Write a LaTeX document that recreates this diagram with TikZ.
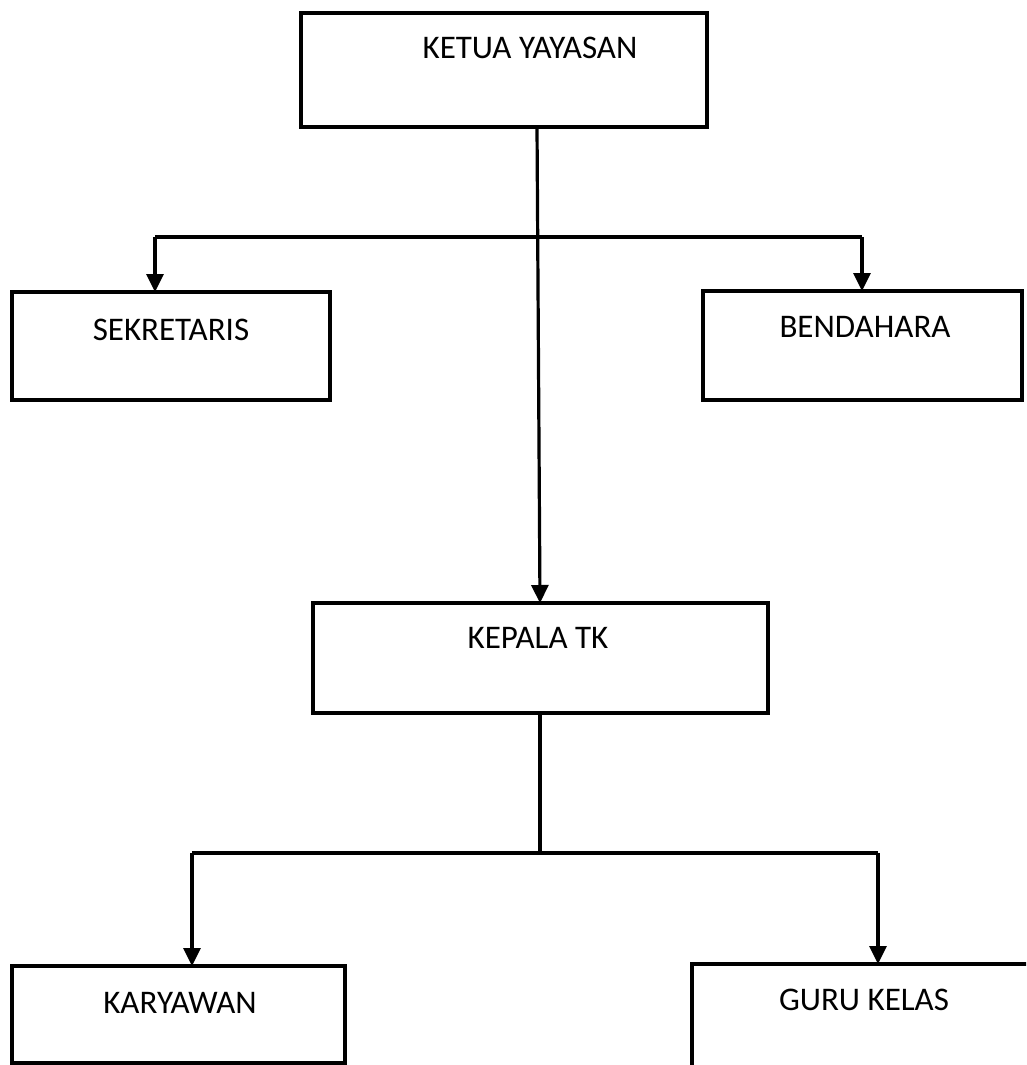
\documentclass[tikz,border=0pt]{standalone}
\usepackage{fontspec}
\setmainfont{Carlito}
\usetikzlibrary{arrows.meta}
\begin{document}
\begin{tikzpicture}[x=1pt,y=-1pt,
  box/.style={draw,line width=3.2pt,rectangle,inner sep=0pt},
  lbl/.style={font=\fontsize{33}{36}\selectfont,inner sep=0pt,anchor=center},
  conn/.style={line width=3.2pt},
  arr/.style={line width=3.2pt,-{Triangle[width=17pt,length=18pt]}}]
\useasboundingbox (0,0) rectangle (1026,1065);
\clip (0,0) rectangle (1026,1065);
% boxes
\draw[box] (301,13) rectangle (707,127);
\node[minimum width=406pt,minimum height=114pt,inner sep=0pt] (ketua) at (504,70) {};
\draw[box] (12,292) rectangle (330,400);
\node[minimum width=318pt,minimum height=108pt,inner sep=0pt] (sek) at (171,346) {};
\draw[box] (703,291) rectangle (1022,400);
\node[minimum width=319pt,minimum height=109pt,inner sep=0pt] (ben) at (862.5,345.5) {};
\draw[box] (313,603) rectangle (768,713);
\node[minimum width=455pt,minimum height=110pt,inner sep=0pt] (kep) at (540.5,658) {};
\draw[box] (12,966) rectangle (345,1063);
\node[minimum width=333pt,minimum height=97pt,inner sep=0pt] (kar) at (178.5,1014.5) {};
\draw[box] (1040,964) -- (692,964) -- (692,1080);
\coordinate (guru) at (878,964);
% labels
\node[lbl] (tketua) at (530,48) {KETUA YAYASAN};
\node[lbl] (tsek) at (171,330) {SEKRETARIS};
\node[lbl] (tben) at (865,327) {BENDAHARA};
\node[lbl] (tkep) at (538,638) {KEPALA TK};
\node[lbl] (tkar) at (180,1003) {KARYAWAN};
\node[lbl] (tguru) at (864,1000) {GURU KELAS};
% connectors
\coordinate (k1) at (537,127);
\coordinate (busL) at (155,237);
\coordinate (busR) at (862,237);
\draw[arr] (k1) -- (540,603);
\draw[conn] (busL) -- (busR);
\draw[arr] (busL) -- (155,292);
\draw[arr] (busR) -- (862,291);
\coordinate (k2) at (540,713);
\coordinate (b2M) at (540,853);
\coordinate (b2L) at (192,853);
\coordinate (b2R) at (878,853);
\draw[conn] (k2) -- (b2M);
\draw[conn] (b2L) -- (b2R);
\draw[arr] (b2L) -- (192,966);
\draw[arr] (b2R) -- (guru);
\end{tikzpicture}
\end{document}
